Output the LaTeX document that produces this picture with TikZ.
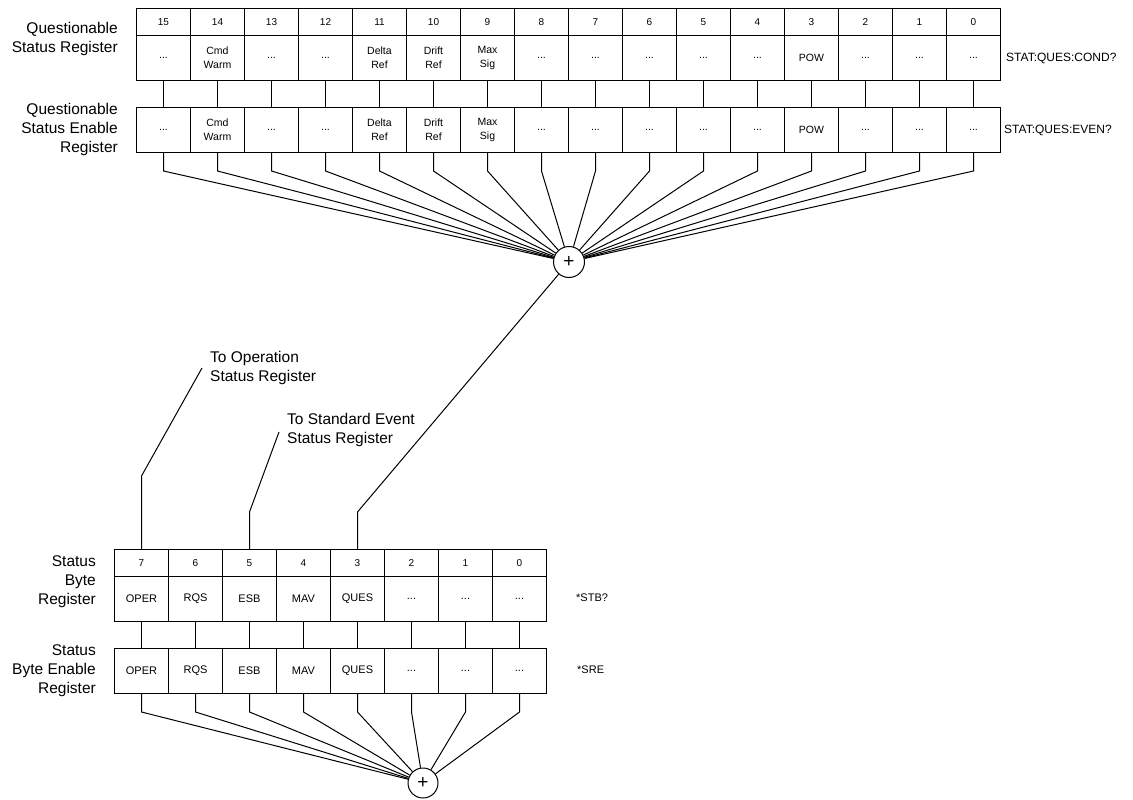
\documentclass[tikz,border=0pt]{standalone}
\usepackage{fontspec}
\setmainfont{Liberation Sans}
\newcommand\qd{...}
\begin{document}
\begin{tikzpicture}[x=1pt,y=-1pt,
 box/.style={draw,line width=1pt,inner sep=0pt,anchor=north west,minimum width=54pt},
 hd/.style={box,minimum height=27pt,font=\fontsize{10}{11}\selectfont},
 bd/.style={box,minimum height=45pt,align=center,font=\fontsize{10.5}{14}\selectfont},
 hdb/.style={box,minimum height=27pt,font=\fontsize{10}{12}\selectfont},
 bdb/.style={box,minimum height=45pt,font=\fontsize{11}{13}\selectfont},
 lbl/.style={inner sep=0pt,align=right,anchor=east,font=\fontsize{15.5}{19}\selectfont},
 note/.style={inner sep=0pt,align=left,anchor=west,font=\fontsize{15.5}{19}\selectfont},
 cmd/.style={inner sep=0pt,anchor=west,font=\fontsize{12}{14}\selectfont},
 wire/.style={line width=1pt},
 sum/.style={circle,draw,line width=1pt,minimum size=31pt,inner sep=0pt,font=\fontsize{19}{19}\selectfont}]
\useasboundingbox (0,0) rectangle (1133,800);

% Questionable registers
\foreach \b/\t [count=\k from 0] in {15/\qd,14/{Cmd\\Warm},13/\qd,12/\qd,11/{Delta\\Ref},10/{Drift\\Ref},9/{Max\\Sig},8/\qd,7/\qd,6/\qd,5/\qd,4/\qd,3/POW,2/\qd,1/\qd,0/\qd}{
  \node[hd] (qh\b) at (136+54*\k,8) {\b};
  \node[bd] (qc\b) at (136+54*\k,35) {\t};
  \node[bd] (qe\b) at (136+54*\k,107) {\t};
  \draw[wire] (qc\b.south) -- (qe\b.north);
}
\node[sum] (qsum) at (569,262) {+};
\foreach \b in {15,14,...,0}{
  \draw[wire] (qe\b.south) -- ++(0,18) -- (qsum);
}

% Status byte registers
\foreach \b/\t [count=\k from 0] in {7/OPER,6/RQS,5/ESB,4/MAV,3/QUES,2/\qd,1/\qd,0/\qd}{
  \node[hdb] (sh\b) at (114+54*\k,549) {\b};
  \node[bdb] (sc\b) at (114+54*\k,576) {\t};
  \node[bdb] (se\b) at (114+54*\k,648) {\t};
  \draw[wire] (sc\b.south) -- (se\b.north);
}
\node[sum,minimum size=30pt] (ssum) at (423,783) {+};
\foreach \b in {7,6,...,0}{
  \draw[wire] (se\b.south) -- ++(0,18) -- (ssum);
}

% outgoing / incoming summaries
\coordinate (opend) at (202,368);
\coordinate (esend) at (279,432);
\draw[wire] (sh7.north) -- ++(0,-73) -- (opend);
\draw[wire] (sh5.north) -- ++(0,-37) -- (esend);
\draw[wire] (sh3.north) -- ++(0,-37) -- (qsum);

% labels
\node[lbl] (l1) at (118,39) {Questionable\\Status Register};
\node[lbl] (l2) at (118,129.5) {Questionable\\Status Enable\\Register};
\node[lbl] (l3) at (96,582) {Status\\Byte\\Register};
\node[lbl] (l4) at (96,671) {Status\\Byte Enable\\Register};
\node[note] (n1) at (210,368) {To Operation\\Status Register};
\node[note] (n2) at (287,429.5) {To Standard Event\\Status Register};
\node[cmd] (c1) at (1006,58) {STAT:QUES:COND?};
\node[cmd] (c2) at (1004,130) {STAT:QUES:EVEN?};
\node[cmd,font=\fontsize{11}{13}\selectfont] (c3) at (576,598) {*STB?};
\node[cmd,font=\fontsize{11}{13}\selectfont] (c4) at (577,670) {*SRE};
\end{tikzpicture}
\end{document}
